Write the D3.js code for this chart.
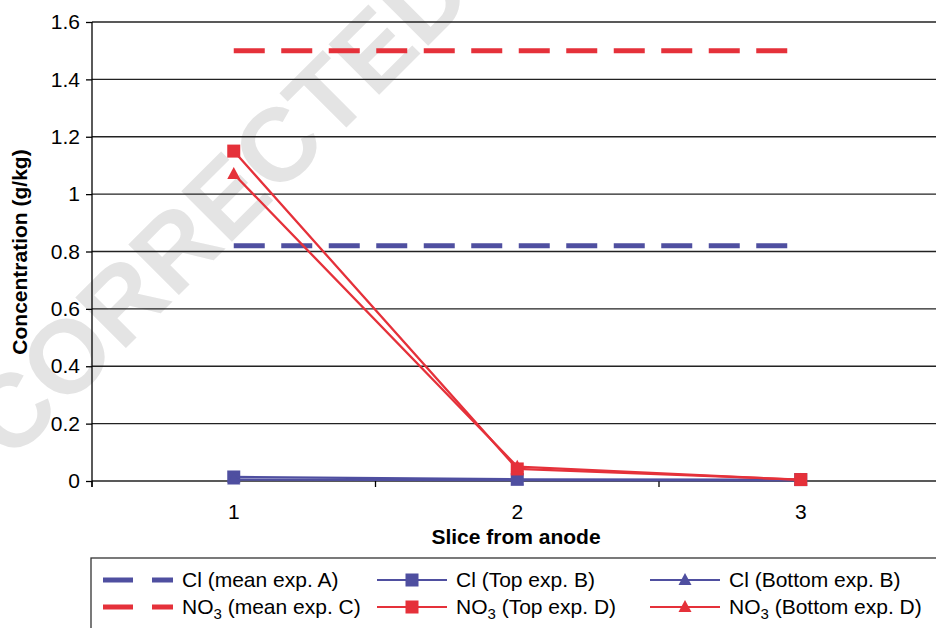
<!DOCTYPE html>
<html>
<head>
<meta charset="utf-8">
<script src="https://cdn.jsdelivr.net/npm/d3@7"></script>
<style>
  body { margin: 0; background: #fff; }
  svg { display: block; font-family: "Liberation Sans", Arial, sans-serif; }
</style>
</head>
<body>
<svg width="936" height="628"></svg>
<script>
// slices
var slices = ["1", "2", "3"];
var yTicks = [0, 0.2, 0.4, 0.6, 0.8, 1, 1.2, 1.4, 1.6];

// mean values (flat lines across slices)
var clMeanA = [0.82, 0.82, 0.82];
var no3MeanC = [1.5, 1.5, 1.5];
// measured per slice
var clTopB = [0.014, 0.006, 0.005];
var clBottomB = [0.005, 0.003, 0.002];
var no3TopD = [1.15, 0.042, 0.005];
var no3BottomD = [1.07, 0.05, 0.004];

var blue = "#4f4fa0", red = "#e5313a";

var series = [
  { name: "Cl", sub: "", rest: " (mean exp. A)", values: clMeanA, color: blue, dashed: true },
  { name: "Cl", sub: "", rest: " (Top exp. B)", values: clTopB, color: blue, marker: "square" },
  { name: "Cl", sub: "", rest: " (Bottom exp. B)", values: clBottomB, color: blue, marker: "triangle" },
  { name: "NO", sub: "3", rest: " (mean exp. C)", values: no3MeanC, color: red, dashed: true },
  { name: "NO", sub: "3", rest: " (Top exp. D)", values: no3TopD, color: red, marker: "square" },
  { name: "NO", sub: "3", rest: " (Bottom exp. D)", values: no3BottomD, color: red, marker: "triangle" }
];

var svg = d3.select("svg");
var mLeft = 92, mTop = 22, mBottom = 481, mRight = 942.5;
var fs = 21;

// watermark behind the chart
svg.append("text")
  .attr("transform", "translate(218,205) rotate(-45)")
  .attr("text-anchor", "middle")
  .attr("dominant-baseline", "central")
  .attr("font-size", 104)
  .attr("font-weight", "bold")
  .attr("fill", "#e4e4e4")
  .text("CORRECTED");

var x = d3.scaleBand().domain(slices).range([mLeft, mRight]).padding(0);
var y = d3.scaleLinear().domain([0, 1.6]).range([mBottom, mTop]);
var cx = function (i) { return x(slices[i]) + x.bandwidth() / 2; };

// gridlines
svg.append("g")
  .selectAll("line")
  .data(yTicks)
  .enter()
  .append("line")
  .attr("x1", mLeft).attr("x2", 936)
  .attr("y1", function (d) { return y(d); })
  .attr("y2", function (d) { return y(d); })
  .attr("stroke", "#222")
  .attr("stroke-width", 1.3);

// y axis
var yAxis = svg.append("g")
  .attr("transform", "translate(" + mLeft + ",0)")
  .call(d3.axisLeft(y).tickValues(yTicks).tickSize(6).tickPadding(6)
    .tickFormat(function (d) { return String(d); }));
yAxis.select(".domain").attr("stroke", "#000").attr("stroke-width", 1.3)
  .attr("d", "M0," + mTop + "V" + (mBottom + 6));
yAxis.selectAll("text").attr("font-size", fs).attr("fill", "#000")
  .attr("font-family", "Liberation Sans, Arial, sans-serif");
yAxis.selectAll(".tick line").attr("stroke", "#000").attr("stroke-width", 1.3);

// x axis: ticks on band boundaries, labels centred
var xg = svg.append("g").attr("transform", "translate(0," + mBottom + ")");
xg.selectAll("line")
  .data(slices)
  .enter()
  .append("line")
  .attr("x1", function (d) { return x(d); })
  .attr("x2", function (d) { return x(d); })
  .attr("y1", 0).attr("y2", 6)
  .attr("stroke", "#000").attr("stroke-width", 1.3);
xg.selectAll("text")
  .data(slices)
  .enter()
  .append("text")
  .attr("x", function (d) { return x(d) + x.bandwidth() / 2; })
  .attr("y", 38)
  .attr("text-anchor", "middle")
  .attr("font-size", fs)
  .text(function (d) { return d; });

// axis titles
svg.append("text")
  .attr("x", 516).attr("y", 544)
  .attr("text-anchor", "middle")
  .attr("font-size", fs).attr("font-weight", "bold")
  .text("Slice from anode");
svg.append("text")
  .attr("transform", "translate(27,252) rotate(-90)")
  .attr("text-anchor", "middle")
  .attr("font-size", fs).attr("font-weight", "bold")
  .text("Concentration (g/kg)");

// lines
var line = d3.line()
  .x(function (d, i) { return cx(i); })
  .y(function (d) { return y(d); });

function drawMarker(sel, kind, color) {
  if (kind === "square") {
    sel.append("rect").attr("x", -6.5).attr("y", -6.5).attr("width", 13).attr("height", 13).attr("fill", color);
  } else {
    sel.append("path").attr("d", "M0,-7L6.5,5L-6.5,5Z").attr("fill", color);
  }
}

var order = [0, 3, 1, 2, 4, 5];
order.forEach(function (k) {
  var s = series[k];
  var path = svg.append("path")
    .datum(s.values)
    .attr("d", line)
    .attr("fill", "none")
    .attr("stroke", s.color);
  if (s.dashed) {
    path.attr("stroke-width", 5).attr("stroke-dasharray", "31,16.5");
  } else {
    path.attr("stroke-width", 2.3);
    s.values.forEach(function (v, i) {
      var g = svg.append("g").attr("transform", "translate(" + cx(i) + "," + y(v) + ")");
      drawMarker(g, s.marker, s.color);
    });
  }
});

// legend
svg.append("rect")
  .attr("x", 91).attr("y", 558).attr("width", 860).attr("height", 90)
  .attr("fill", "#fff").attr("stroke", "#333").attr("stroke-width", 1.3);

var colX = [103, 377, 650];
var rowY = [580, 607];
series.forEach(function (s, k) {
  var col = k % 3, row = Math.floor(k / 3);
  var lx = colX[col], ly = rowY[row];
  var g = svg.append("g").attr("transform", "translate(" + lx + "," + ly + ")");
  if (s.dashed) {
    g.append("line").attr("x1", 0).attr("x2", 70).attr("y1", 0).attr("y2", 0)
      .attr("stroke", s.color).attr("stroke-width", 5).attr("stroke-dasharray", "30,19");
  } else {
    g.append("line").attr("x1", 0).attr("x2", 70).attr("y1", 0).attr("y2", 0)
      .attr("stroke", s.color).attr("stroke-width", 2);
    var m = g.append("g").attr("transform", "translate(35,0)");
    drawMarker(m, s.marker, s.color);
  }
  var t = g.append("text").attr("x", 79).attr("y", 7).attr("font-size", fs);
  t.append("tspan").text(s.name);
  if (s.sub) {
    t.append("tspan").attr("font-size", 15).attr("dy", 5).text(s.sub);
    t.append("tspan").attr("dy", -5).text(s.rest);
  } else {
    t.append("tspan").text(s.rest);
  }
});
</script>
</body>
</html>
